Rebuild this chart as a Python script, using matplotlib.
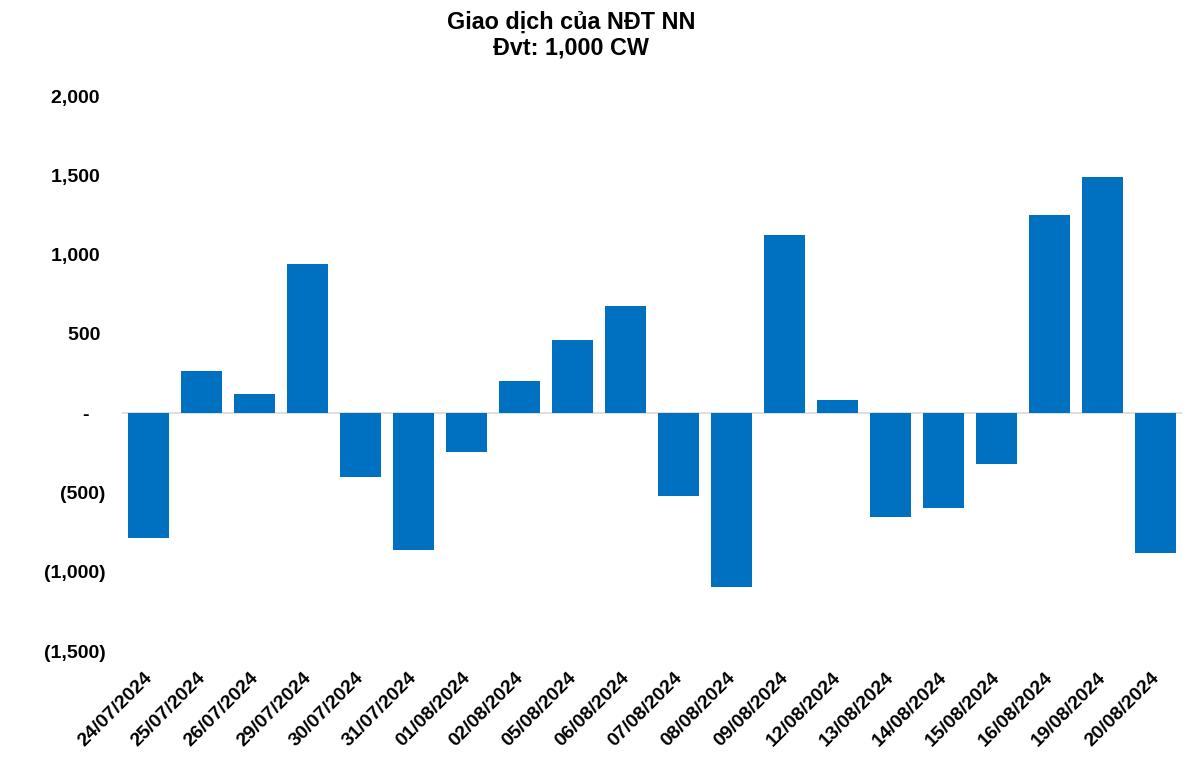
import matplotlib
matplotlib.use("Agg")
import matplotlib.pyplot as plt
import matplotlib.transforms as mtransforms
from matplotlib.ticker import FuncFormatter, FixedLocator

dates = ["24/07/2024", "25/07/2024", "26/07/2024", "29/07/2024", "30/07/2024",
         "31/07/2024", "01/08/2024", "02/08/2024", "05/08/2024", "06/08/2024",
         "07/08/2024", "08/08/2024", "09/08/2024", "12/08/2024", "13/08/2024",
         "14/08/2024", "15/08/2024", "16/08/2024", "19/08/2024", "20/08/2024"]
values = [-790, 265, 120, 940, -404, -864, -246, 202, 461, 675,
          -524, -1098, 1123, 82, -656, -599, -322, 1249, 1489, -883]
yticks = [-1500, -1000, -500, 0, 500, 1000, 1500, 2000]

plt.rcParams['font.family'] = ['Liberation Sans', 'DejaVu Sans']

fig = plt.figure(figsize=(12, 7.58), dpi=100)
ax = fig.add_axes([122/1200, 107/758, 1060/1200, 555/758])

x = list(range(len(dates)))
ax.bar(x, values, width=0.79, color="#0070C0", zorder=2)
ax.axhline(0, color="#D9D9D9", linewidth=1.2, zorder=1)

ax.set_xlim(-0.5, len(dates) - 0.5)
ax.set_ylim(-1500, 2000)
ax.yaxis.set_major_locator(FixedLocator(yticks))

def fmt(v, pos):
    if v == 0:
        return "-   "
    if v < 0:
        return f"({abs(v):,.0f})"
    return f"{v:,.0f} "

ax.yaxis.set_major_formatter(FuncFormatter(fmt))
ax.set_xticks(x)
ax.set_xticklabels(dates, rotation=45, ha="right", rotation_mode="anchor")

for s in ax.spines.values():
    s.set_visible(False)
ax.tick_params(axis="both", length=0, labelsize=14)
ax.tick_params(axis="y", pad=12)
ax.tick_params(axis="x", pad=13)
offset = mtransforms.ScaledTranslation(-5/100, 0, fig.dpi_scale_trans)
for lbl in ax.get_xticklabels():
    lbl.set_fontweight("bold")
    lbl.set_transform(lbl.get_transform() + offset)
for lbl in ax.get_yticklabels():
    lbl.set_fontweight("bold")

fig.text(571/1200, 1 - 29/758, "Giao dịch của NĐT NN", ha="center", va="baseline",
         fontsize=16.8, fontweight="bold")
fig.text(571/1200, 1 - 54/758, "Đvt: 1,000 CW", ha="center", va="baseline",
         fontsize=16.8, fontweight="bold")

fig.savefig("out.png", dpi=100, facecolor="white")
